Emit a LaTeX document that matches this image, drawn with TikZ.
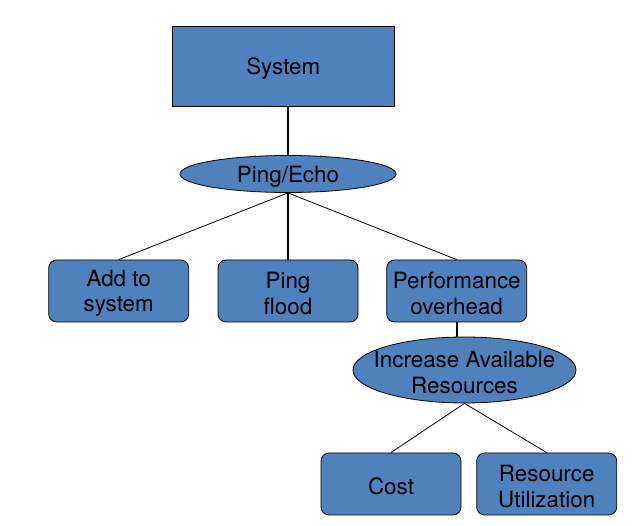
\documentclass[tikz,border=0pt]{standalone}
\usepackage{fontspec}
\setmainfont{TeX Gyre Heros}
\usepackage{xcolor}
\usetikzlibrary{shapes.geometric,positioning}
\definecolor{boxblue}{HTML}{4F81BD}

\begin{document}
\begin{tikzpicture}[x=1pt, y=-1pt, font=\fontsize{22.4}{25.7}\selectfont]
        \tikzset{
          block/.style={draw=black, fill=boxblue, line width=0.8pt, align=center, inner sep=0pt,
                        execute at begin node={\rule{0pt}{#1}}},
          block/.default=21pt,
          box/.style={block=#1, rectangle, rounded corners=8pt, minimum width=140pt, minimum height=62pt},
          box/.default=21pt,
          oval/.style={block=#1, ellipse, inner xsep=-14pt, inner ysep=-4pt},
          oval/.default=21pt,
          thinline/.style={line width=0.8pt},
          thickline/.style={line width=1.8pt}
        }
        \useasboundingbox (0,0) rectangle (635,526);
        \node[block, minimum width=222pt, minimum height=80pt] (sys) at (283.3,66) {System};
        \node[oval, minimum width=216pt, minimum height=37pt] (echo) at (288,174) {Ping/Echo};
        \node[box=46.5pt] (add)   at (118.7,291) {Add to\\system};
        \node[box=46.5pt] (flood) at (288,291)   {Ping\\flood};
        \node[box=46.5pt] (perf)  at (456.7,291) {Performance\\overhead};
        \node[oval=46.5pt, minimum width=223pt, minimum height=66pt] (incr) at (464.5,370) {Increase Available\\Resources};
        \node[box]        (cost)  at (391,484)   {Cost};
        \node[box=46.5pt] (util)  at (546.7,484) {Resource\\Utilization};
        \draw[thickline] (echo.north |- sys.south) -- (echo.north);
        \draw[thinline]  (echo.south) -- (add.north);
        \draw[thickline] (echo.south) -- (flood.north);
        \draw[thinline]  (echo.south) -- (perf.north);
        \draw[thickline] (perf.south) -- (perf.south |- incr.north);
        \draw[thinline]  (incr.south) -- (cost.north);
        \draw[thinline]  (incr.south) -- (util.north);
\end{tikzpicture}
\end{document}
